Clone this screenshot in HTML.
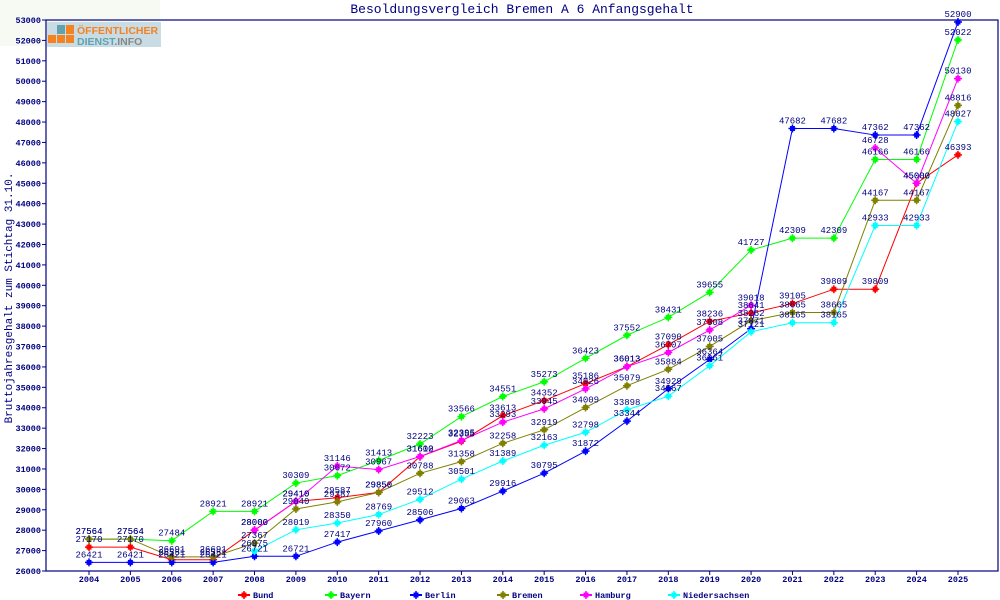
<!DOCTYPE html>
<html><head><meta charset="utf-8"><style>
body{margin:0;background:#fff;width:1000px;height:600px;overflow:hidden}
svg{display:block}
text{font-family:"Liberation Mono",monospace;fill:#000080}
</style></head><body>
<svg id="c" width="1000" height="600" xmlns="http://www.w3.org/2000/svg">
<rect x="0" y="0" width="160" height="46" fill="#f7faf3"/>
<rect x="47" y="22" width="114" height="25" fill="#c9dbe3"/>
<rect x="48" y="35" width="8" height="8" fill="#f58220"/><rect x="57" y="35" width="8" height="8" fill="#f58220"/><rect x="66" y="35" width="8" height="8" fill="#f58220"/>
<rect x="66" y="25" width="8" height="9" fill="#f58220"/><rect x="57" y="25" width="8" height="9" fill="#5fa3b0"/>
<text x="77" y="34" font-weight="bold" font-size="10.5" style="fill:#f58220;font-family:'Liberation Sans',sans-serif">ÖFFENTLICHER</text>
<text x="77" y="45" font-weight="bold" font-size="10.5" style="fill:#5fa3b0;font-family:'Liberation Sans',sans-serif">DIENST<tspan style="fill:#888">.INFO</tspan></text>
<text x="522" y="13" font-size="13" text-anchor="middle">Besoldungsvergleich Bremen A 6 Anfangsgehalt</text>
<text transform="translate(12,298) rotate(-90)" font-size="11" text-anchor="middle">Bruttojahresgehalt zum Stichtag 31.10.</text>
<g id="g"></g>
</svg>
<script>
var g=document.getElementById('g'),h='';
var L=46,R=998,T=20,B=571;
function X(i){return 89+i*41.38}
function Y(v){return B-(v-26000)*(B-T)/27000}
h+='<rect x="'+L+'" y="'+T+'" width="'+(R-L)+'" height="'+(B-T)+'" fill="none" stroke="#000080" stroke-width="1.2"/>';
for(var v=26000;v<=53000;v+=1000){var y=Y(v);h+='<line x1="'+(L-4)+'" x2="'+L+'" y1="'+y+'" y2="'+y+'" stroke="#000080"/><text x="'+(L-5)+'" y="'+(y+3)+'" font-size="8.5" font-weight="bold" text-anchor="end">'+v+'</text>';}
for(var i=0;i<22;i++){var x=X(i);h+='<line x1="'+x+'" x2="'+x+'" y1="'+B+'" y2="'+(B+4)+'" stroke="#000080"/><text x="'+x+'" y="'+(B+11)+'" font-size="8.5" font-weight="bold" text-anchor="middle">'+(2004+i)+'</text>';}
var S=[
["Bund","#ff0000",[27170,27170,26551,26551,28000,29410,29587,29850,31600,32355,33613,34352,35186,36013,37090,38236,38641,39105,39809,39809,45000,46393]],
["Bayern","#00ff00",[27564,27564,27484,28921,28921,30309,30672,31413,32223,33566,34551,35273,36423,37552,38431,39655,41727,42309,42309,46166,46166,52022]],
["Berlin","#0000ff",[26421,26421,26421,26421,26721,26721,27417,27960,28506,29063,29916,30795,31872,33344,34929,36364,37871,47682,47682,47362,47362,52900]],
["Bremen","#808000",[27564,27564,26691,26691,27367,29040,29387,29850,30788,31358,32258,32919,34009,35079,35884,37005,38262,38665,38665,44167,44167,48816]],
["Hamburg","#ff00ff",[null,null,null,null,28000,29410,31146,30967,31612,32395,33293,33945,34926,36013,36707,37808,39018,null,null,46728,45000,50130]],
["Niedersachsen","#00ffff",[null,null,null,null,26975,28019,28350,28769,29512,30501,31389,32163,32798,33898,34567,36061,37721,38165,38165,42933,42933,48027]]];
function mk(x,y,c){return '<rect x="'+(x-2.5)+'" y="'+(y-2.5)+'" width="5" height="5" fill="'+c+'"/><path d="M'+(x-4)+' '+y+'h8M'+x+' '+(y-4)+'v8" stroke="'+c+'" stroke-width="1.5"/>';}
var lab='';
S.forEach(function(s){var d=[],p=null;
 s[2].forEach(function(v,i){if(v==null){p=null;return;}var x=X(i),y=Y(v);
  d.push((p?'L':'M')+x+' '+y);p=1;lab+='<text x="'+x+'" y="'+(y-5)+'" font-size="9" text-anchor="middle">'+v+'</text>';});
 h+='<path d="'+d.join('')+'" fill="none" stroke="'+s[1]+'" stroke-width="1"/>';
 s[2].forEach(function(v,i){if(v!=null)h+=mk(X(i),Y(v),s[1]);});
});
h+=lab;
var lx=[238,325,410,497,580,668];
S.forEach(function(s,k){var x=lx[k];h+='<line x1="'+x+'" x2="'+(x+12)+'" y1="595" y2="595" stroke="'+s[1]+'" stroke-width="2"/>'+mk(x+6,595,s[1])+'<text x="'+(x+15)+'" y="598" font-size="8.5" font-weight="bold">'+s[0]+'</text>';});
g.innerHTML=h;
</script>
</body></html>
